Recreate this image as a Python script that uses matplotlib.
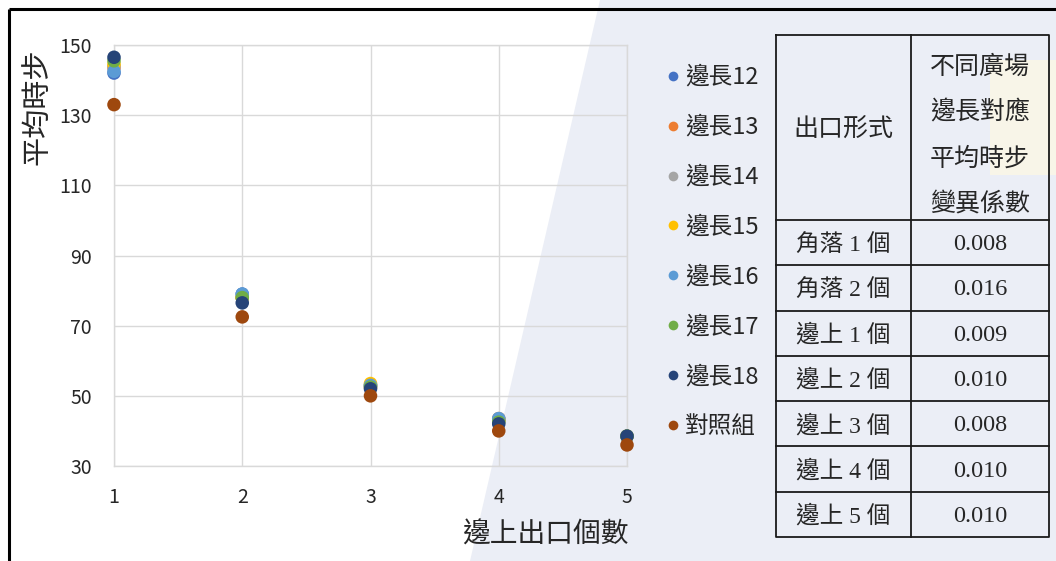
import matplotlib
matplotlib.use("Agg")
import matplotlib.pyplot as plt
from matplotlib.patches import Polygon
from matplotlib.lines import Line2D

plt.rcParams['font.family'] = ['Noto Sans CJK TC', 'DejaVu Sans']

# ---- data ----
exits = [1, 2, 3, 4, 5]
series_names = ['邊長12', '邊長13', '邊長14', '邊長15', '邊長16', '邊長17', '邊長18', '對照組']
series_colors = ['#4472C4', '#ED7D31', '#A5A5A5', '#FFC000', '#5B9BD5', '#70AD47', '#264478', '#9E480E']
side12 = [142.0, 79.0, 53.0, 43.0, 38.5]
side13 = [143.5, 78.0, 52.5, 43.5, 38.5]
side14 = [144.0, 78.0, 53.0, 43.5, 38.5]
side15 = [144.5, 78.0, 53.5, 43.0, 38.5]
side16 = [142.5, 79.0, 53.0, 43.5, 38.5]
side17 = [145.5, 78.0, 52.5, 42.5, 38.5]
side18 = [146.5, 76.5, 52.0, 42.0, 38.5]
control = [133.0, 72.5, 50.0, 40.0, 36.0]
series_values = [side12, side13, side14, side15, side16, side17, side18, control]

x_ticks = [1, 2, 3, 4, 5]
y_ticks = [30, 50, 70, 90, 110, 130, 150]

table_header = ['出口形式', '不同廣場\n邊長對應\n平均時步\n變異係數']
exit_types = ['角落 1 個', '角落 2 個', '邊上 1 個', '邊上 2 個', '邊上 3 個', '邊上 4 個', '邊上 5 個']
cv_values = ['0.008', '0.016', '0.009', '0.010', '0.008', '0.010', '0.010']

# ---- figure ----
W, H = 1056, 561
fig = plt.figure(figsize=(W / 100, H / 100), dpi=100)
fig.patch.set_facecolor('white')

def fx(px):
    return px / W

def fy(py):
    return 1 - py / H

# pale tinted backdrop on the right-hand part of the page
bg = fig.add_axes([0, 0, 1, 1], zorder=-10)
bg.set_xlim(0, W)
bg.set_ylim(H, 0)
bg.axis('off')
bg.add_patch(Polygon([[600, 0], [W, 0], [W, H], [470, H]], closed=True,
                     facecolor='#ebeef6', edgecolor='none'))
bg.add_patch(Polygon([[990, 60], [W, 60], [W, 175], [990, 175]], closed=True,
                     facecolor='#f8f5e8', edgecolor='none'))
# page frame (left and top edges)
bg.plot([9, 9], [9, H], color='black', lw=2.2, solid_capstyle='butt')
bg.plot([9, W], [9, 9], color='black', lw=2.2, solid_capstyle='butt')

# ---- scatter plot ----
ax = fig.add_axes([fx(114), fy(466), fx(627) - fx(114), fy(45) - fy(466)])
ax.patch.set_alpha(0)
for name, color, vals in zip(series_names, series_colors, series_values):
    ax.scatter(exits, vals, s=95, color=color, edgecolors='none', label=name,
               zorder=3, clip_on=False)

ax.set_xlim(1, 5)
ax.set_ylim(30, 150)
ax.set_xticks(x_ticks)
ax.set_yticks(y_ticks)
ax.grid(True, color='#d9d9d9', lw=1.0, zorder=0)
for sp in ax.spines.values():
    sp.set_color('#d9d9d9')
    sp.set_linewidth(1.0)
ax.tick_params(axis='both', length=0, labelsize=14, colors='#262626')
ax.tick_params(axis='y', pad=16)
ax.tick_params(axis='x', pad=15)

fig.text(fx(545), fy(535), '邊上出口個數', fontsize=20, ha='center', va='center', color='#262626')
fig.text(fx(37), fy(107), '平均時步', fontsize=21, rotation=90, ha='center', va='center',
         color='#262626')

# ---- legend ----
handles = [Line2D([], [], marker='o', linestyle='none', markersize=7,
                  markerfacecolor=c, markeredgecolor='none') for c in series_colors]
fig.legend(handles, series_names, loc='upper left', bbox_to_anchor=(fx(664), fy(66)),
           frameon=False, fontsize=17, labelspacing=1.14, handletextpad=0.1,
           handlelength=0.8, borderpad=0, borderaxespad=0, labelcolor='#262626')

# ---- table ----
tx0, ty0, tx1, ty1 = 776, 35, 1049, 537
tax = fig.add_axes([fx(tx0), fy(ty1), fx(tx1) - fx(tx0), fy(ty0) - fy(ty1)])
tw, th = tx1 - tx0, ty1 - ty0
tax.set_xlim(0, tw)
tax.set_ylim(th, 0)
tax.axis('off')
col_split = 135
header_h = 185
row_h = (th - header_h) / len(exit_types)
lc = '#1a1a1a'
tax.plot([0, tw, tw, 0, 0], [0, 0, th, th, 0], color=lc, lw=1.3, clip_on=False)
tax.plot([col_split, col_split], [0, th], color=lc, lw=1.3, clip_on=False)
for i in range(len(exit_types)):
    yy = header_h + i * row_h
    tax.plot([0, tw], [yy, yy], color=lc, lw=1.3, clip_on=False)

cjk_serif = ['Liberation Serif', 'Noto Sans CJK TC']
c1 = col_split / 2
c2 = (col_split + tw) / 2
tax.text(c1, header_h / 2 + 2, table_header[0], fontsize=18, ha='center', va='center',
         color='#262626', fontweight='light')
for k, line in enumerate(table_header[1].split('\n')):
    tax.text(c2, 32 + k * 45.7, line, fontsize=18, ha='center', va='center',
             color='#262626', fontweight='light')
for i, (lab, val) in enumerate(zip(exit_types, cv_values)):
    yc = header_h + (i + 0.5) * row_h + 2
    tax.text(c1, yc, lab, fontsize=17, ha='center', va='center', color='#262626',
             family=cjk_serif, fontweight='light')
    tax.text(c2, yc, val, fontsize=17.5, ha='center', va='center', color='#262626',
             family=cjk_serif)

fig.savefig('out.png', dpi=100)
